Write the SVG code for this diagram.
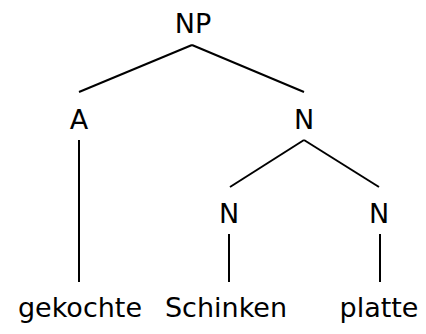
<svg xmlns="http://www.w3.org/2000/svg" width="426" height="334" viewBox="0 0 426 334">
<style>
.t{font-family:"DejaVu Sans",sans-serif;font-size:27px;fill:#000;text-anchor:middle}
.e line{stroke:#000;stroke-width:2;stroke-linecap:butt}
</style>
<rect width="426" height="334" fill="#fff"/>
<g class="e" id="edges">
<line x1="192" y1="45" x2="79" y2="92"/>
<line x1="192" y1="45" x2="304" y2="92"/>
<line x1="79" y1="140" x2="79" y2="282"/>
<line x1="304" y1="140" x2="230" y2="187"/>
<line x1="304" y1="140" x2="379" y2="187"/>
<line x1="229" y1="234" x2="229" y2="282"/>
<line x1="380" y1="234" x2="380" y2="282"/>
</g>
<g id="np"><text class="t" x="193" y="33">NP</text></g>
<g id="a"><text class="t" x="79" y="129">A</text></g>
<g id="n1"><text class="t" x="304" y="129">N</text></g>
<g id="n2"><text class="t" x="229" y="223">N</text></g>
<g id="n3"><text class="t" x="379" y="223">N</text></g>
<g id="w1"><text class="t" x="80" y="317">gekochte</text></g>
<g id="w2"><text class="t" x="226" y="317">Schinken</text></g>
<g id="w3"><text class="t" x="379" y="317">platte</text></g>
</svg>
